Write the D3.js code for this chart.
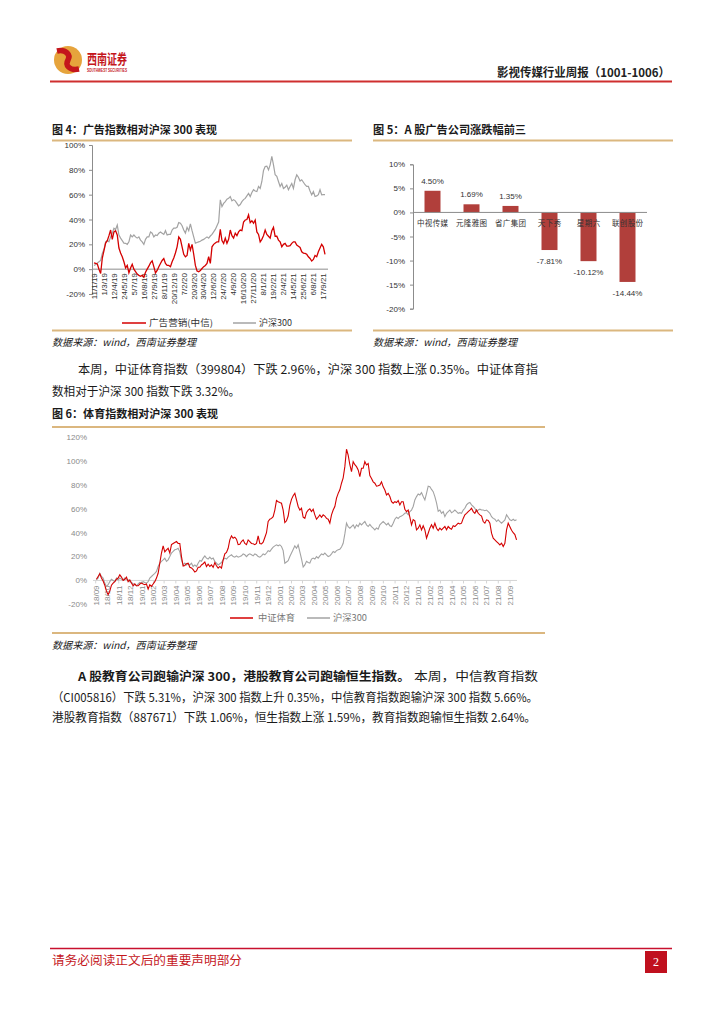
<!DOCTYPE html>
<html><head><meta charset="utf-8">
<script src="https://cdn.jsdelivr.net/npm/d3@7"></script>
<style>
html,body{margin:0;padding:0;background:#fff;}
svg{display:block;}
</style></head><body>
<svg id="page" width="724" height="1024"></svg>
<script>
// ---------------- DATA ----------------
const ad4Labels = ["11/1/19","1/3/19","12/4/19","24/5/19","5/7/19","16/8/19","27/9/19","8/11/19","20/12/19","7/2/20","20/3/20","30/4/20","12/6/20","24/7/20","4/9/20","16/10/20","27/11/20","8/1/21","19/2/21","2/4/21","14/5/21","25/6/21","6/8/21","17/9/21"];
// weekly relative performance, 广告营销(中信)
const ad4Values = [5,4.6,4.2,0,-3.5,9,15,21,23,27,
 31.5,24,30,31,27.5,17,13,10,6,1,
 3,-3,1,4,0,-2,-4,-5,-5.7,-5,
 -6.5,-2.5,0,2.4,5,6.7,2,-3,-1,2,
 4.6,7,8.6,4.6,3,3,2,6,9,13,
 18,26,24,18,12,10,11,20.8,15.4,20,
 12,3,-1.5,-2,-1,0.5,2,3,4.6,10,
 4.6,18,20,21,22,22,32,23,20.8,25,
 20.8,24,31.5,27,25,29,27,30,31.5,31,
 38,39.6,40,43.7,37.5,39,37,39.6,30,28,
 22,24,27,31.5,28,26.5,25,31,33.7,26.5,
 26.5,23.4,22,18,20,20.8,18.6,18.6,19,20.8,
 22,22,19.4,18.5,17.5,14,13,12.7,12,10,
 8.6,6.5,7.8,11,10,14,17,20,18,12];
// weekly, 沪深300
const hs4Values = [3,3.8,5,6,7,12.7,16,22,23,22,
 26,29,33,32,35.6,27.5,25,23,21,20.8,
 20,22,27.5,26,27.5,26,25,26,23.4,22,
 20,24,26,26,30,29,26,27.5,27,29,
 30,29,28,31,27.5,28,28,31.5,33,33,
 33.7,37.5,37,35,31.5,29,33.7,31,36.5,31,
 26,21,21.5,22,22.5,23.4,24,25,26,25,
 26.7,28,30,32,35,38,55.8,50.4,53,54.4,
 56.3,57,58.5,55,56,55,53,51,52,54.4,
 56,57,59,61,58.5,61.7,64,63,62.5,66.6,
 65,70.6,79.5,82.7,83,80,84,90.8,84,76,
 74.7,70.6,66.6,69,65,66,67.7,64,66.6,69,
 65,72,76,74,71,72,70,68,66.6,66.6,
 63,59.8,62.5,58.5,59,60,64,59.8,60,60];

const barCompanies = ["中视传媒","元隆雅图","省广集团","天下秀","星期六","联创股份"];
const barValues = [4.50, 1.69, 1.35, -7.81, -10.12, -14.44];
const barTicks = [-20,-15,-10,-5,0,5,10];

// 中证体育 vs 沪深300, sampled about every 3 trading days
const sportStart = "2018-09-03";
const sportStepDays = 4.41;
const sportValues = [1,3.3,5.6,2,-0.5,-4,-9,-12,-9,-4,
 -2.3,-1,1,2,4.7,2.8,0,1,2.8,-1,
 0.5,-2.2,-4.5,-2.8,-4.5,-4.5,-3,-2.2,-3,-3.6,
 -3,-7.3,-3.6,-5,-3,-1,2,6,14.5,23,
 29,24,25.7,27,23,30,31,31.8,32.6,31,
 31,20,12,12.5,14,14.5,11,10.5,9,7,
 8,11,11,13,14,15.5,11.7,13.7,11.7,13,
 11,15,12.3,10.3,11.7,10.3,17.3,22.3,23.4,27,
 34,37.4,35.4,36.3,34.6,30,30.4,32.6,34,31,
 30,34,32.6,31,30.7,30,31,37.4,31,30.7,
 32,36,40,49.4,51.3,52,53.5,59,67,66,
 65.3,64.7,59,48.5,50,54,63,68,71,73,
 67.5,62,59,60.5,53,52,57,59,60,
 57.7,59.7,55,51.3,53,55,53,55,54,52,
 51.3,48,55,59,62,69,73,76,81.5,86,
 95.4,110,105,97,91.2,99.5,97,95.4,92.6,87,
 94,94,99.6,96.8,98,88,85.5,82.7,81.5,79,
 79.3,80,82.7,78.5,75.8,71.7,73,70.3,66,64.7,
 66,65.3,67,63.3,66,66,59.7,57.7,59,53,
 46.6,51,50,42.4,43.8,46.6,42.4,45.8,42.4,35.4,
 39.6,43.8,46.6,43.8,48,43.8,41.8,43.8,42.4,43.8,
 45.2,42.4,45.2,43.8,43,45.8,45.2,46.6,48,47.4,
 48,52,55,56.3,57.7,59,60.5,57.7,56.3,59,
 56.3,55,54,49.4,48,50.8,50.2,48,39.6,35.4,
 34,32.6,31.2,29.8,31.2,28.5,31.2,42.4,48,45,
 42,40,38.5,34];
const hs6Values = [0.5,2,6,3.3,2,-2.2,-5,-3.6,-1,1,
 0,-1,2,0.5,2,1,0.5,2,1,0.5,
 -1,-1.7,-2.8,-3.6,-4.5,-2.8,-1.7,-2.2,-1,-1.7,
 -2.2,-1,2,3.3,4.7,6,7.5,11.7,14.5,16,
 17.3,18.7,16,17.3,20,23,24.3,25.7,26.2,27,
 24,17,13,14.5,13,14,13,14.5,11.7,13,
 11.7,14.5,16.7,16,18.7,20.6,18.7,17.9,19.5,17.9,
 18.7,16,14.5,13,14,15,17.3,18.7,17.9,19.5,
 20.6,21.5,20,19.5,20.6,19.5,20,20.6,22.3,21.5,
 20,21.5,22.3,21.5,20.6,22.3,21.5,20,19.5,20.6,
 22.3,21.5,23,25,24.3,26.2,28,29,29.8,29,
 29.8,28.5,25,14.5,15.5,16.5,20,23,26,29,
 27,29.8,24,18,11.2,13,16,15,14.5,
 17.9,18.7,17.9,20,18.7,20.6,22.3,21.5,23,21.5,
 20,20.6,22.3,24.3,23.4,25,25.7,26.2,28,31.2,
 39,48,45,43.8,45.2,46.6,43.8,46.6,45.2,48,
 46.6,48,49.4,46.6,45.2,47,45.2,43.8,42.4,44,
 43,46.6,48,49.4,48,46.6,48,45.8,45.2,48,
 51.3,53,52,53.5,54,55,56.3,56.8,55,57.7,
 59,62,67.5,70.3,72.5,71.7,73.6,70.3,67.5,73,
 79,78.5,76.3,74.4,70.3,65,58,59,56.3,57.7,
 53.5,56.3,57.7,59,56.8,57.7,59,57.7,56.3,56.8,
 56.3,59,60.5,63.3,64.7,65.3,63.3,62,60.5,57.7,
 59,59.7,59,59,58.5,59,57.7,56.3,53.5,52,
 51.3,49.4,50.8,49.4,48,49.4,50.8,55,53,50.8,
 50.2,51.3,50.2,50.8];
const sportYTicks = [-20,0,20,40,60,80,100,120];

// ---------------- DRAW ----------------
const CJK = '"Noto Sans CJK SC", sans-serif';
const SANS = '"Liberation Sans", Arial, sans-serif';
const GOLD = '#dbb77f';
const RED = '#d40000';
const GREY = '#a3a3a3';
const svg = d3.select('#page');

function txt(x, y, s, o = {}) {
  const t = svg.append('text').attr('x', x).attr('y', y).text(s)
    .attr('font-family', o.family || CJK)
    .attr('font-size', o.size || 12)
    .attr('fill', o.fill || '#1a1a1a');
  if (o.weight) t.attr('font-weight', o.weight);
  if (o.style) t.attr('font-style', o.style);
  if (o.anchor) t.attr('text-anchor', o.anchor);
  if (o.len) t.attr('textLength', o.len).attr('lengthAdjust', 'spacingAndGlyphs');
  return t;
}
function hline(x1, x2, y, color, w) {
  svg.append('line').attr('x1', x1).attr('x2', x2).attr('y1', y).attr('y2', y)
    .attr('stroke', color).attr('stroke-width', w);
}

// header
svg.append('circle').attr('cx', 68).attr('cy', 60).attr('r', 14).attr('fill', '#e6a43c');
svg.append('path').attr('d', 'M57,51 C66,49 71,55 68,60 C65,65 69,71 79,69')
  .attr('fill', 'none').attr('stroke', '#c4161c').attr('stroke-width', 5.5);
txt(87, 64, '西南证券', {size: 14, weight: 'bold', fill: '#c4161c', len: 40});
txt(87, 72, 'SOUTHWEST SECURITIES', {family: SANS, size: 4.5, weight: 'bold', fill: '#c4161c', len: 40});
txt(497, 77, '影视传媒行业周报（1001-1006）', {size: 12, weight: 'bold', fill: '#222', len: 173});
hline(50, 672, 81.5, '#cf2f2f', 2);

// ---------- Chart 4 ----------
txt(52, 134, '图 4：广告指数相对沪深 300 表现', {size: 11, weight: 'bold', len: 165});
hline(52, 352, 140.5, GOLD, 2);
hline(52, 352, 330.5, GOLD, 2);
txt(52, 346, '数据来源：wind，西南证券整理', {size: 10, style: 'italic', len: 144});
{
  const x = d3.scaleLinear().domain([0, ad4Values.length - 1]).range([94, 325]);
  const y = d3.scaleLinear().domain([-20, 100]).range([294, 145]);
  const ya = svg.append('g').attr('transform', 'translate(92,0)')
    .call(d3.axisLeft(y).tickValues([-20,0,20,40,60,80,100]).tickFormat(d => d + '%').tickSize(3).tickPadding(4));
  ya.select('.domain').attr('stroke', '#8c8c8c');
  ya.selectAll('.tick line').attr('stroke', '#8c8c8c');
  ya.selectAll('text').attr('font-family', SANS).attr('font-size', 8).attr('fill', '#333');
  hline(92, 328, y(0), '#8c8c8c', 1);
  svg.append('g').selectAll('text').data(ad4Labels).join('text')
    .attr('transform', (d, i) => `translate(${x(i * 6)},${y(0) + 4}) rotate(-90)`)
    .attr('text-anchor', 'end').attr('dy', '0.35em')
    .attr('font-family', SANS).attr('font-size', 8).attr('fill', '#333').text(d => d);
  const line = d3.line().x((d, i) => x(i)).y(d => y(d));
  svg.append('path').attr('d', line(hs4Values)).attr('fill', 'none').attr('stroke', GREY).attr('stroke-width', 1.2);
  svg.append('path').attr('d', line(ad4Values)).attr('fill', 'none').attr('stroke', RED).attr('stroke-width', 1.3);
  hline(122, 146, 323, RED, 1.5);
  txt(149, 326, '广告营销(中信)', {size: 9, fill: '#333', len: 64});
  hline(233, 256, 323, GREY, 1.5);
  txt(259, 326, '沪深300', {size: 9, fill: '#333', len: 33});
}

// ---------- Chart 5 ----------
txt(373, 134, '图 5：A 股广告公司涨跌幅前三', {size: 11, weight: 'bold', len: 153});
hline(373, 673, 140.5, GOLD, 2);
hline(373, 673, 330.5, GOLD, 2);
txt(373, 346, '数据来源：wind，西南证券整理', {size: 10, style: 'italic', len: 144});
{
  const x = d3.scaleBand().domain(barCompanies).range([413, 647]).paddingInner(0.59).paddingOuter(0.295);
  const y = d3.scaleLinear().domain([-20, 10]).range([308.7, 164.3]);
  const data = barCompanies.map((c, i) => ({c, v: barValues[i]}));
  svg.append('g').selectAll('rect').data(data).join('rect')
    .attr('x', d => x(d.c)).attr('width', x.bandwidth())
    .attr('y', d => y(Math.max(0, d.v))).attr('height', d => Math.abs(y(d.v) - y(0)))
    .attr('fill', '#b13f3b');
  const ya = svg.append('g').attr('transform', 'translate(413,0)')
    .call(d3.axisLeft(y).tickValues(barTicks).tickFormat(d => d + '%').tickSize(3).tickPadding(5));
  ya.select('.domain').attr('stroke', '#8c8c8c');
  ya.selectAll('.tick line').attr('stroke', '#8c8c8c');
  ya.selectAll('text').attr('font-family', SANS).attr('font-size', 8).attr('fill', '#333');
  hline(413, 647, y(0), '#8c8c8c', 1);
  svg.append('g').selectAll('text').data(data).join('text')
    .attr('x', d => x(d.c) + x.bandwidth() / 2).attr('y', 226)
    .attr('text-anchor', 'middle').attr('font-family', CJK).attr('font-size', 7.5).attr('fill', '#333')
    .attr('textLength', d => d.c.length * 7.8).attr('lengthAdjust', 'spacing')
    .text(d => d.c);
  svg.append('g').selectAll('text').data(data).join('text')
    .attr('x', d => x(d.c) + x.bandwidth() / 2)
    .attr('y', d => d.v >= 0 ? y(d.v) - 7 : y(d.v) + 14)
    .attr('text-anchor', 'middle').attr('font-family', SANS).attr('font-size', 8).attr('fill', '#333')
    .text(d => d.v.toFixed(2) + '%');
}

// ---------- paragraph 1 ----------
txt(78, 374, '本周，中证体育指数（399804）下跌 2.96%，沪深 300 指数上涨 0.35%。中证体育指', {size: 12, len: 460});
txt(52, 396, '数相对于沪深 300 指数下跌 3.32%。', {size: 12, len: 188});

// ---------- Chart 6 ----------
txt(52, 418, '图 6：体育指数相对沪深 300 表现', {size: 11, weight: 'bold', len: 166});
hline(52, 545, 427, GOLD, 2);
hline(52, 545, 633, GOLD, 2);
txt(52, 649, '数据来源：wind，西南证券整理', {size: 10, style: 'italic', len: 144});
{
  const parse = d3.timeParse('%Y-%m-%d');
  const t0 = parse(sportStart);
  const dateAt = i => new Date(t0.getTime() + i * sportStepDays * 864e5);
  const x = d3.scaleTime().domain([new Date(2018, 8, 1), new Date(2021, 8, 1)]).range([95.7, 510]);
  const y = d3.scaleLinear().domain([-20, 120]).range([604.3, 437.3]);
  svg.append('g').selectAll('text').data(sportYTicks).join('text')
    .attr('x', 87).attr('y', d => y(d)).attr('dy', '0.35em').attr('text-anchor', 'end')
    .attr('font-family', SANS).attr('font-size', 8).attr('fill', '#8a8a8a').text(d => d + '%');
  const ay = y(0);
  hline(93, 517, ay, '#d4d4d4', 1);
  const months = d3.timeMonth.range(new Date(2018, 8, 1), new Date(2021, 8, 2));
  const fmt = d3.timeFormat('%y/%m');
  svg.append('g').selectAll('line').data(months).join('line')
    .attr('x1', d => x(d)).attr('x2', d => x(d)).attr('y1', ay).attr('y2', ay + 3)
    .attr('stroke', '#d4d4d4');
  svg.append('g').selectAll('text').data(months).join('text')
    .attr('transform', d => `translate(${x(d)},${ay + 5}) rotate(-90)`)
    .attr('text-anchor', 'end').attr('dy', '0.35em')
    .attr('font-family', SANS).attr('font-size', 8).attr('fill', '#8a8a8a').text(d => fmt(d));
  const line = d3.line().x((d, i) => x(dateAt(i))).y(d => y(d));
  svg.append('path').attr('d', line(hs6Values)).attr('fill', 'none').attr('stroke', GREY).attr('stroke-width', 1.1);
  svg.append('path').attr('d', line(sportValues)).attr('fill', 'none').attr('stroke', RED).attr('stroke-width', 1.1);
  hline(230, 253, 618, RED, 1.5);
  txt(258, 621, '中证体育', {size: 9, fill: '#777', len: 37});
  hline(307, 330, 618, GREY, 1.5);
  txt(333, 621, '沪深300', {size: 9, fill: '#777', len: 34});
}

// ---------- paragraph 2 ----------
txt(78, 681, 'A 股教育公司跑输沪深 300，港股教育公司跑输恒生指数。', {size: 12, weight: 'bold', len: 332});
txt(414, 681, '本周，中信教育指数', {size: 12, len: 124});
txt(52, 702, '（CI005816）下跌 5.31%，沪深 300 指数上升 0.35%，中信教育指数跑输沪深 300 指数 5.66%。', {size: 12, len: 486});
txt(52, 722, '港股教育指数（887671）下跌 1.06%，恒生指数上涨 1.59%，教育指数跑输恒生指数 2.64%。', {size: 12, len: 484});

// ---------- footer ----------
hline(50, 672, 948.5, '#c8102e', 1.5);
txt(52, 965, '请务必阅读正文后的重要声明部分', {size: 12, fill: '#c4161c', len: 190});
svg.append('rect').attr('x', 645).attr('y', 951).attr('width', 22).attr('height', 22).attr('fill', '#c0101e');
txt(656, 966, '2', {family: '"Liberation Serif", serif', size: 12, fill: '#fff', anchor: 'middle'});
</script></body></html>
